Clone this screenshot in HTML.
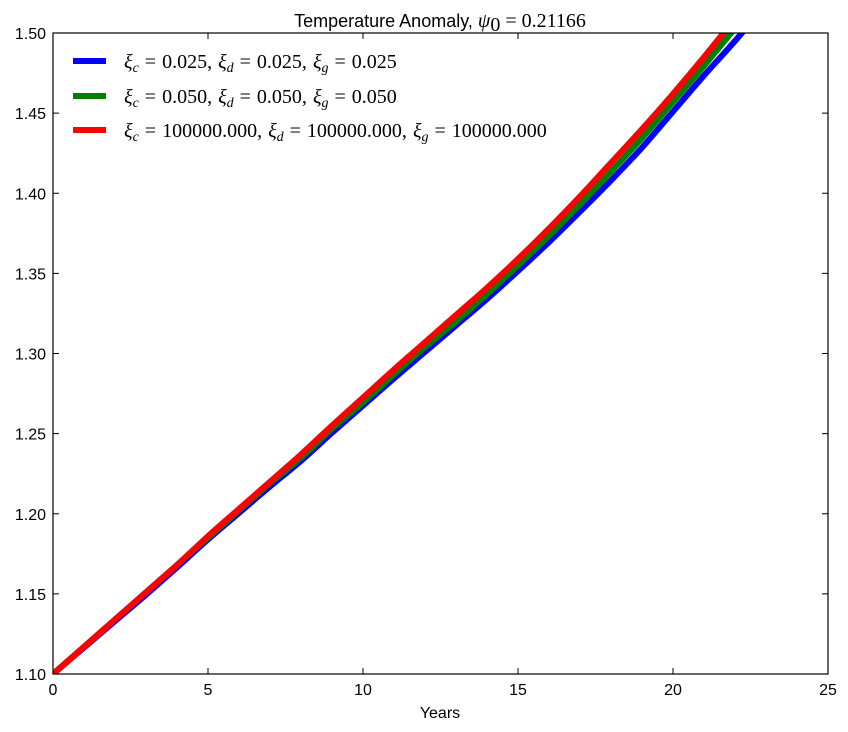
<!DOCTYPE html>
<html><head><meta charset="utf-8"><style>
html,body{margin:0;padding:0;background:#fff;}
svg{display:block;font-family:"Liberation Sans",sans-serif;}
.m{font-family:"Liberation Serif",serif;font-size:20px;}
</style></head><body>
<svg id="chart" width="848" height="732">
<defs><clipPath id="clip"><rect x="53" y="33" width="775" height="641"/></clipPath></defs>
<rect x="0" y="0" width="848" height="732" fill="#fff"/>
<text x="440" y="27" text-anchor="middle" font-size="18">Temperature Anomaly, <tspan class="m" font-style="italic">ψ</tspan><tspan class="m" font-size="14" dy="4">0</tspan><tspan class="m" dy="-4"> = 0.21166</tspan></text>
<g id="series" clip-path="url(#clip)"></g>
<rect x="53" y="33" width="775" height="641" fill="none" stroke="#000" stroke-width="1.2"/>
<g id="xticks"></g><g id="yticks"></g>
<text x="440" y="718" text-anchor="middle" font-size="16">Years</text>
<g id="legend">
 <g>
  <line x1="73" y1="61" x2="106" y2="61" stroke="#0000ff" stroke-width="6"/>
  <text class="m" x="124" y="68" word-spacing="1"><tspan font-style="italic">ξ</tspan><tspan font-size="14" font-style="italic" dy="4">c</tspan><tspan dy="-4"> = 0.025, </tspan><tspan font-style="italic">ξ</tspan><tspan font-size="14" font-style="italic" dy="4">d</tspan><tspan dy="-4"> = 0.025, </tspan><tspan font-style="italic">ξ</tspan><tspan font-size="14" font-style="italic" dy="4">g</tspan><tspan dy="-4"> = 0.025</tspan></text>
 </g>
 <g>
  <line x1="73" y1="96" x2="106" y2="96" stroke="#008000" stroke-width="6"/>
  <text class="m" x="124" y="103" word-spacing="1"><tspan font-style="italic">ξ</tspan><tspan font-size="14" font-style="italic" dy="4">c</tspan><tspan dy="-4"> = 0.050, </tspan><tspan font-style="italic">ξ</tspan><tspan font-size="14" font-style="italic" dy="4">d</tspan><tspan dy="-4"> = 0.050, </tspan><tspan font-style="italic">ξ</tspan><tspan font-size="14" font-style="italic" dy="4">g</tspan><tspan dy="-4"> = 0.050</tspan></text>
 </g>
 <g>
  <line x1="73" y1="130" x2="106" y2="130" stroke="#ff0000" stroke-width="6"/>
  <text class="m" x="124" y="137" word-spacing="1"><tspan font-style="italic">ξ</tspan><tspan font-size="14" font-style="italic" dy="4">c</tspan><tspan dy="-4"> = 100000.000, </tspan><tspan font-style="italic">ξ</tspan><tspan font-size="14" font-style="italic" dy="4">d</tspan><tspan dy="-4"> = 100000.000, </tspan><tspan font-style="italic">ξ</tspan><tspan font-size="14" font-style="italic" dy="4">g</tspan><tspan dy="-4"> = 100000.000</tspan></text>
 </g>
</g>
</svg>
<script>
const years = [0,1,2,3,4,5,6,7,8,9,10,11,12,13,14,15,16,17,18,19,20,21,22,23];
const redValues = [1.100,1.117,1.134,1.151,1.168,1.186,1.203,1.220,1.237,1.255,1.2725,1.290,1.307,1.324,1.341,1.359,1.378,1.398,1.419,1.440,1.462,1.485,1.509,1.533];
const greenValues = [1.100,1.117,1.134,1.151,1.168,1.185,1.202,1.219,1.235,1.253,1.2695,1.287,1.304,1.320,1.337,1.355,1.3735,1.393,1.4135,1.4345,1.457,1.4795,1.503,1.527];
const blueValues = [1.100,1.1165,1.133,1.1495,1.1665,1.184,1.2005,1.217,1.233,1.2505,1.2675,1.2845,1.301,1.3175,1.334,1.3515,1.3695,1.3885,1.408,1.4285,1.451,1.4735,1.495,1.518];
const xTicks = [0,5,10,15,20,25];
const yTicks = [1.10,1.15,1.20,1.25,1.30,1.35,1.40,1.45,1.50];
const X0=53,X1=828,Y0=674,Y1=33;
function xs(v){return X0+(v-0)/(25-0)*(X1-X0);}
function ys(v){return Y0-(v-1.10)/(1.50-1.10)*(Y0-Y1);}
function smoothPath(pts){
  let d='M'+pts[0][0].toFixed(2)+','+pts[0][1].toFixed(2);
  for(let i=0;i<pts.length-1;i++){
    const p0=pts[Math.max(0,i-1)],p1=pts[i],p2=pts[i+1],p3=pts[Math.min(pts.length-1,i+2)];
    const c1x=p1[0]+(p2[0]-p0[0])/6,c1y=p1[1]+(p2[1]-p0[1])/6;
    const c2x=p2[0]-(p3[0]-p1[0])/6,c2y=p2[1]-(p3[1]-p1[1])/6;
    d+='C'+c1x.toFixed(2)+','+c1y.toFixed(2)+' '+c2x.toFixed(2)+','+c2y.toFixed(2)+' '+p2[0].toFixed(2)+','+p2[1].toFixed(2);
  }
  return d;
}
const NS='http://www.w3.org/2000/svg';
const seriesG=document.getElementById('series');
[['blue',blueValues,'#0000ff'],['green',greenValues,'#008000'],['red',redValues,'#ff0000']].forEach(s=>{
  const p=document.createElementNS(NS,'path');
  p.setAttribute('d',smoothPath(years.map((y,i)=>[xs(y),ys(s[1][i])])));
  p.setAttribute('fill','none');p.setAttribute('stroke',s[2]);p.setAttribute('stroke-width','6');
  
  
  seriesG.appendChild(p);
});
const xg=document.getElementById('xticks');
xTicks.forEach(t=>{
  const x=xs(t);
  const l=document.createElementNS(NS,'path');
  l.setAttribute('d',`M${x},${Y0}v-6M${x},${Y1}v6`);l.setAttribute('stroke','#000');
  
  
  xg.appendChild(l);
  const tx=document.createElementNS(NS,'text');
  tx.setAttribute('x',x);tx.setAttribute('y',Y0+21);tx.setAttribute('text-anchor','middle');tx.setAttribute('font-size','16');
  tx.textContent=t;
  
  
  xg.appendChild(tx);
});
const yg=document.getElementById('yticks');
yTicks.forEach(t=>{
  const y=ys(t);
  const l=document.createElementNS(NS,'path');
  l.setAttribute('d',`M${X0},${y}h6M${X1},${y}h-6`);l.setAttribute('stroke','#000');
  
  
  yg.appendChild(l);
  const tx=document.createElementNS(NS,'text');
  tx.setAttribute('x',X0-7);tx.setAttribute('y',y+6);tx.setAttribute('text-anchor','end');tx.setAttribute('font-size','16');
  tx.textContent=t.toFixed(2);
  
  
  yg.appendChild(tx);
});
</script>
</body></html>
